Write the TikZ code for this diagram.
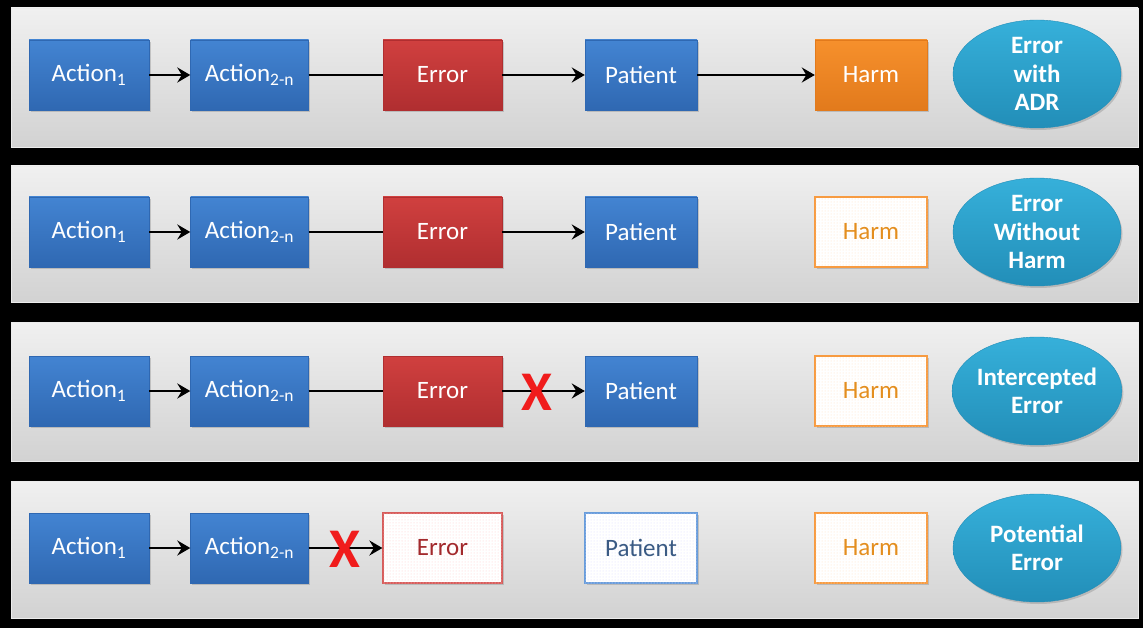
\documentclass[tikz,border=0pt]{standalone}
\usepackage{fontspec}
\setmainfont{Carlito}
\usetikzlibrary{arrows.meta,shadows,patterns,shapes.geometric}
\definecolor{bluetop}{HTML}{4384D2}
\definecolor{bluebot}{HTML}{2F68B2}
\definecolor{redtop}{HTML}{D0403F}
\definecolor{redbot}{HTML}{B02E30}
\definecolor{oratop}{HTML}{F6902C}
\definecolor{orabot}{HTML}{E27A1C}
\definecolor{tealtop}{HTML}{36B0DA}
\definecolor{tealbot}{HTML}{228EB8}
\definecolor{paneltop}{HTML}{F0F0F0}
\definecolor{panelbot}{HTML}{D2D2D2}
\definecolor{xred}{HTML}{F01C1C}
\definecolor{dred}{HTML}{A3292C}
\definecolor{dblue}{HTML}{3A5A84}
\definecolor{dora}{HTML}{E48E1E}
\newcommand\boxfont{\fontsize{25}{28}\selectfont}
\newcommand\ovalfont{\fontsize{25}{28.5}\selectfont\bfseries}
\newcommand\xfont{\fontsize{56}{56}\selectfont\bfseries}
\tikzset{
  panel/.style={top color=paneltop, bottom color=panelbot, draw=white!85!gray, line width=0.6pt},
  box/.style={rectangle, minimum height=70pt, inner sep=0pt, font=\boxfont,
    drop shadow={shadow xshift=1.5pt, shadow yshift=-2pt, opacity=.35}},
  bluebox/.style={box, top color=bluetop, bottom color=bluebot, draw=bluebot, line width=0.4pt, text=white},
  redbox/.style={box, top color=redtop, bottom color=redbot, draw=redbot, line width=0.4pt, text=white},
  orabox/.style={box, top color=oratop, bottom color=orabot, draw=orabot, line width=0.4pt, text=white},
  ghostred/.style={box, fill=white, draw=redtop!85, line width=1.2pt, text=dred,
    postaction={pattern=dots, pattern color=red!22}},
  ghostblue/.style={box, fill=white, draw=bluetop!80, line width=1.2pt, text=dblue,
    postaction={pattern=dots, pattern color=blue!15}},
  ghostora/.style={box, fill=white, draw=oratop!90, line width=1.2pt, text=dora,
    postaction={pattern=dots, pattern color=orange!25}},
  oval/.style={ellipse, minimum width=168pt, minimum height=108pt, inner sep=0pt,
    top color=tealtop, bottom color=tealbot, draw=tealbot, line width=0.4pt,
    text=white, font=\ovalfont, align=center,
    drop shadow={shadow xshift=1.5pt, shadow yshift=-2pt, opacity=.35}},
  conn/.style={line width=2.6pt, black},
  arr/.style={conn, -{Stealth[length=13pt, width=15pt, inset=4.5pt]}},
  cross/.style={text=xred, font=\xfont, inner sep=0pt}
}
\begin{document}
\begin{tikzpicture}[x=1pt, y=-1pt]
\fill[black] (0,0) rectangle (1143,628);
\useasboundingbox (0,0) rectangle (1143,628);
% panels
\path[panel] (11,8) rectangle (1138,147);
\path[panel] (11,166) rectangle (1138,302);
\path[panel] (11,322) rectangle (1138,461);
\path[panel] (11,481) rectangle (1138,618);

% row 1
\node[bluebox, minimum width=120pt] (a1) at (89,75) {Action\textsubscript{1}};
\node[bluebox, minimum width=118pt] (b1) at (249.5,75) {Action\textsubscript{2-n}};
\node[redbox, minimum width=119pt] (e1) at (442.5,75) {Error};
\node[bluebox, minimum width=112pt] (p1) at (641,75) {Patient};
\node[orabox, minimum width=112pt] (h1) at (871,75) {Harm};
\node[oval] (o1) at (1037,74) {Error\\with\\ADR};
\draw[arr] (a1) -- (b1);
\draw[conn] (b1) -- (e1);
\draw[arr] (e1) -- (p1);
\draw[arr] (p1) -- (h1);

% row 2
\node[bluebox, minimum width=120pt] (a2) at (89,232) {Action\textsubscript{1}};
\node[bluebox, minimum width=118pt] (b2) at (249.5,232) {Action\textsubscript{2-n}};
\node[redbox, minimum width=119pt] (e2) at (442.5,232) {Error};
\node[bluebox, minimum width=112pt] (p2) at (641,232) {Patient};
\node[ghostora, minimum width=112pt] (h2) at (871,232) {Harm};
\node[oval] (o2) at (1037,232) {Error\\Without\\Harm};
\draw[arr] (a2) -- (b2);
\draw[conn] (b2) -- (e2);
\draw[arr] (e2) -- (p2);

% row 3
\node[bluebox, minimum width=120pt] (a3) at (89,391) {Action\textsubscript{1}};
\node[bluebox, minimum width=118pt] (b3) at (249.5,391) {Action\textsubscript{2-n}};
\node[redbox, minimum width=119pt] (e3) at (442.5,391) {Error};
\node[bluebox, minimum width=112pt] (p3) at (641,391) {Patient};
\node[ghostora, minimum width=112pt] (h3) at (871,391) {Harm};
\node[oval] (o3) at (1037,391) {Intercepted\\Error};
\draw[arr] (a3) -- (b3);
\draw[conn] (b3) -- (e3);
\draw[arr] (e3) -- (p3);
\node[cross] (x3) at (537,392) {X};

% row 4
\node[bluebox, minimum width=120pt] (a4) at (89,548) {Action\textsubscript{1}};
\node[bluebox, minimum width=118pt] (b4) at (249.5,548) {Action\textsubscript{2-n}};
\node[ghostred, minimum width=119pt] (e4) at (442.5,548) {Error};
\node[ghostblue, minimum width=112pt] (p4) at (641,548) {Patient};
\node[ghostora, minimum width=112pt] (h4) at (871,548) {Harm};
\node[oval] (o4) at (1037,548) {Potential\\Error};
\draw[arr] (a4) -- (b4);
\draw[arr] (b4) -- (e4);
\node[cross] (x4) at (345,549) {X};
\end{tikzpicture}
\end{document}
